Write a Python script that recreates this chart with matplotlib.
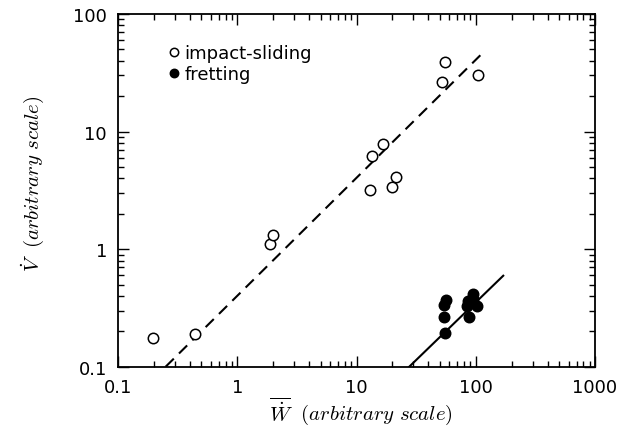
import matplotlib
matplotlib.use("Agg")
import matplotlib.pyplot as plt
from matplotlib.ticker import LogLocator, FixedLocator, FixedFormatter, NullFormatter

plt.rcParams['mathtext.fontset'] = 'cm'

# impact-sliding (open circles)
impact_w = [0.197, 0.44, 1.87, 2.0, 13.0, 13.4, 16.8, 19.7, 21.4, 51.8, 55.2, 105]
impact_v = [0.175, 0.19, 1.10, 1.33, 3.2, 6.2, 7.8, 3.36, 4.08, 26.2, 39.3, 30.3]

# fretting (filled circles)
fret_w = [56, 54.5, 54.5, 55, 94, 86.7, 85, 102, 88, 95]
fret_v = [0.369, 0.335, 0.263, 0.194, 0.415, 0.364, 0.33, 0.326, 0.263, 0.377]

# fitted lines (end points)
impact_fit_w = [0.251, 112]
impact_fit_v = [0.1, 45.7]
fret_fit_w = [27.7, 170]
fret_fit_v = [0.1, 0.594]

major_ticks_x = [0.1, 1, 10, 100, 1000]
major_ticks_y = [0.1, 1, 10, 100]
tick_labels_x = ["0.1", "1", "10", "100", "1000"]
tick_labels_y = ["0.1", "1", "10", "100"]

fig = plt.figure(figsize=(6.26, 4.31), dpi=100)
ax = fig.add_axes([0.1885, 0.1469, 0.762, 0.8183])

ax.plot(impact_fit_w, impact_fit_v, color='black', lw=1.5, dashes=(5.5, 3.5))
ax.plot(fret_fit_w, fret_fit_v, color='black', lw=1.5)

ax.plot(impact_w, impact_v, 'o', ms=7.5, mfc='white', mec='black', mew=1.1,
        label='impact-sliding')
ax.plot(fret_w, fret_v, 'o', ms=7.5, mfc='black', mec='black', mew=1.1,
        label='fretting')

ax.set_xscale('log')
ax.set_yscale('log')
ax.set_xlim(0.1, 1000)
ax.set_ylim(0.1, 100)

ax.xaxis.set_major_locator(FixedLocator(major_ticks_x))
ax.xaxis.set_major_formatter(FixedFormatter(tick_labels_x))
ax.yaxis.set_major_locator(FixedLocator(major_ticks_y))
ax.yaxis.set_major_formatter(FixedFormatter(tick_labels_y))
ax.xaxis.set_minor_locator(LogLocator(base=10, subs=range(2, 10), numticks=20))
ax.yaxis.set_minor_locator(LogLocator(base=10, subs=range(2, 10), numticks=20))
ax.xaxis.set_minor_formatter(NullFormatter())
ax.yaxis.set_minor_formatter(NullFormatter())

ax.tick_params(which='both', direction='in', top=True, right=True, width=1)
ax.tick_params(which='major', length=8, labelsize=13, pad=8)
ax.tick_params(which='minor', length=4)
for lab in ax.get_xticklabels() + ax.get_yticklabels():
    lab.set_family('DejaVu Sans')
for sp in ax.spines.values():
    sp.set_linewidth(1.3)

ax.set_xlabel(r'$\overline{\dot{W}}\ \ (arbitrary\ scale)$', fontsize=15)
ax.set_ylabel(r'$\dot{V}\ \ (arbitrary\ scale)$', fontsize=15)
ax.xaxis.set_label_coords(0.51, -0.08)
ax.yaxis.set_label_coords(-0.15, 0.52)

ax.legend(loc='upper left', bbox_to_anchor=(0.09, 0.94), frameon=False,
          handlelength=0.4, handletextpad=0.4, labelspacing=0.15,
          borderpad=0, markerscale=0.8, fontsize=13)

fig.savefig('out.png', dpi=100)
